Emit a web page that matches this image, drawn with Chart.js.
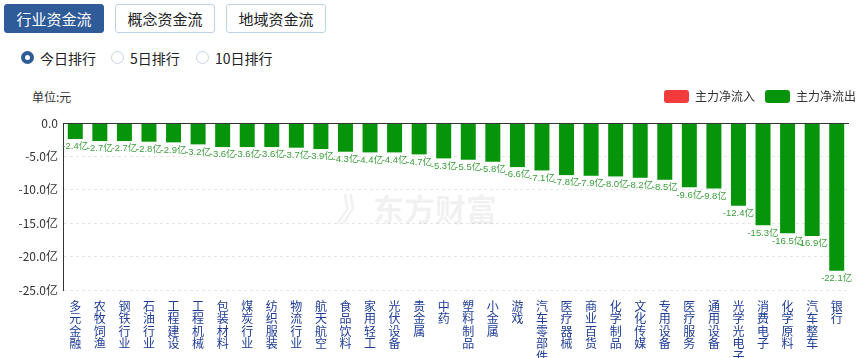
<!DOCTYPE html>
<html>
<head>
<meta charset="utf-8">
<script src="https://cdn.jsdelivr.net/npm/chart.js@4"></script>
<style>
    body { margin: 0; width: 858px; height: 358px; overflow: hidden; background: #fff; font-family: "Microsoft YaHei", "Noto Sans CJK SC", sans-serif; position: relative; }
    .tab { position: absolute; top: 4px; width: 100px; height: 29px; box-sizing: border-box; border: 1px solid #bcd2e8; border-radius: 3px; font-size: 15px; line-height: 27px; text-align: center; color: #222; background: #fff; }
    .tab.active { background: #2f5b98; border-color: #2f5b98; color: #fff; }
    .radio { position: absolute; top: 49px; font-size: 14px; line-height: 18px; color: #222; }
    .radio i { position: absolute; left: -19px; top: 2px; width: 13px; height: 13px; border-radius: 50%; box-sizing: border-box; border: 1px solid #c5d5e6; background: #fff; }
    .radio.on i { border: 4px solid #2f5b98; }
    #unit { position: absolute; left: 32px; top: 88px; font-size: 12px; color: #333; }
    #box { position: absolute; left: 0; top: 80px; width: 858px; height: 278px; }
</style>
</head>
<body>
<div class="tab active" style="left:4px">行业资金流</div>
<div class="tab" style="left:115px">概念资金流</div>
<div class="tab" style="left:226px">地域资金流</div>
<div class="radio on" style="left:40px"><i></i>今日排行</div>
<div class="radio" style="left:130px"><i></i>5日排行</div>
<div class="radio" style="left:215px"><i></i>10日排行</div>
<div id="unit">单位:元</div>
<div id="box"><canvas id="myChart"></canvas></div>
<script>
    // 行业名称
    const hangye = ['多元金融', '农牧饲渔', '钢铁行业', '石油行业', '工程建设', '工程机械', '包装材料', '煤炭行业',
        '纺织服装', '物流行业', '航天航空', '食品饮料', '家用轻工', '光伏设备', '贵金属', '中药',
        '塑料制品', '小金属', '游戏', '汽车零部件', '医疗器械', '商业百货', '化学制品', '文化传媒',
        '专用设备', '医疗服务', '通用设备', '光学光电子', '消费电子', '化学原料', '汽车整车', '银行'];

    // 主力净流出 (亿)
    const liuchu = [-2.4, -2.7, -2.7, -2.8, -2.9, -3.2, -3.6, -3.6, -3.6, -3.7, -3.9, -4.3, -4.4, -4.4, -4.7, -5.3,
        -5.5, -5.8, -6.6, -7.1, -7.8, -7.9, -8.0, -8.2, -8.5, -9.6, -9.8, -12.4, -15.3, -16.5, -16.9, -22.1];

    // 主力净流入 - brak dodatnich wartości
    const liuru = [];

    const yTicks = [0, -5, -10, -15, -20, -25];

    const ctx = document.getElementById('myChart').getContext('2d');

    // margines pod legendą + przesunięcie legendy w prawo
    const legendMargin = {
        id: 'legendMargin',
        beforeInit(chart) {
            const fit = chart.legend.fit;
            chart.legend.fit = function() {
                fit.bind(chart.legend)();
                this.height += 10;
            };
        },
        afterLayout(chart) {
            chart.legend.left += 17;
            chart.legend.right += 17;
        }
    };

    // znak wodny + linia zero + etykiety wartości
    const extras = {
        id: 'extras',
        beforeDatasetsDraw(chart) {
            const c = chart.ctx;
            c.save();
            c.fillStyle = 'rgba(0,0,0,0.055)';
            c.font = 'bold 31px "Noto Sans CJK SC", sans-serif';
            c.textBaseline = 'middle';
            c.fillText('东方财富', 373, 129);
            c.font = 'bold italic 32px "Noto Sans CJK SC", sans-serif';
            c.fillText('》', 336, 129);
            c.restore();
        },
        afterDatasetsDraw(chart) {
            const c = chart.ctx;
            const area = chart.chartArea;
            const y0 = chart.scales.y.getPixelForValue(0);
            c.save();
            c.strokeStyle = '#333';
            c.lineWidth = 1;
            c.beginPath();
            c.moveTo(area.left, Math.round(y0) + 0.5);
            c.lineTo(area.right, Math.round(y0) + 0.5);
            c.stroke();

            const meta = chart.getDatasetMeta(1);
            c.fillStyle = '#3a9e3a';
            c.font = '9.5px "Liberation Sans Narrow", "Liberation Sans", "Noto Sans CJK SC", sans-serif';
            c.textAlign = 'center';
            c.textBaseline = 'top';
            meta.data.forEach(function(bar, i) {
                c.fillText(liuchu[i].toFixed(1) + '亿', bar.x, bar.y + 3);
            });
            c.restore();
        }
    };

    new Chart(ctx, {
        type: 'bar',
        data: {
            labels: hangye,
            datasets: [{
                label: '主力净流入',
                data: liuru,
                backgroundColor: '#f23b3b'
            }, {
                label: '主力净流出',
                data: liuchu,
                backgroundColor: '#06940b',
                categoryPercentage: 1,
                barPercentage: 0.61
            }]
        },
        options: {
            responsive: true,
            maintainAspectRatio: false,
            animation: false,
            layout: { padding: { left: 0, right: 9, top: 0, bottom: 0 } },
            plugins: {
                legend: {
                    align: 'end',
                    labels: {
                        boxWidth: 25,
                        boxHeight: 13,
                        padding: 10,
                        color: '#333',
                        useBorderRadius: true,
                        borderRadius: 3,
                        font: { size: 12, family: '"Noto Sans CJK SC", sans-serif' }
                    }
                },
                tooltip: { enabled: false }
            },
            scales: {
                x: {
                    stacked: true,
                    grid: { display: false },
                    border: { display: false },
                    ticks: {
                        color: '#1e3c96',
                        maxRotation: 0,
                        autoSkip: false,
                        padding: 2,
                        font: { size: 12, lineHeight: 1.04, family: '"Noto Sans CJK SC", sans-serif' },
                        callback: function(v, i) { return hangye[i].split(''); }
                    },
                    afterFit: function(scale) { scale.height = 68; }
                },
                y: {
                    min: -25,
                    max: 0,
                    afterBuildTicks: function(scale) { scale.ticks = yTicks.map(v => ({ value: v })); },
                    grid: { color: '#e6e6e6', drawTicks: false },
                    border: { color: '#333', dash: [3, 3] },
                    ticks: {
                        color: '#333',
                        padding: 5,
                        font: { size: 12, family: '"Noto Sans CJK SC", sans-serif' },
                        callback: function(v) { return v === 0 ? '0.0' : v.toFixed(1) + '亿'; }
                    },
                    afterFit: function(scale) { scale.width = 63; }
                }
            }
        },
        plugins: [legendMargin, extras]
    });
</script>
</body>
</html>
